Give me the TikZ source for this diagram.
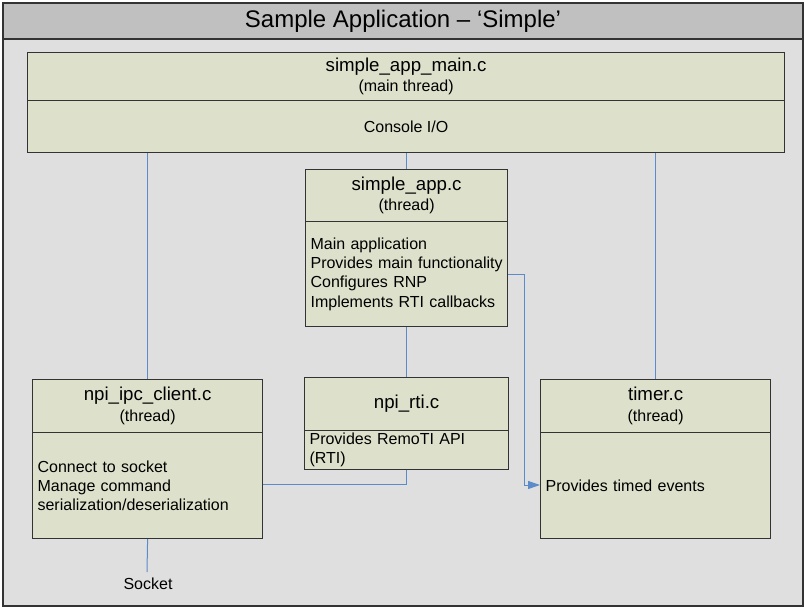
\documentclass[tikz,border=0pt]{standalone}
\usepackage{fontspec}
\setmainfont{Liberation Sans}
\usetikzlibrary{arrows.meta}
\definecolor{bgfill}{HTML}{DFDFDF}
\definecolor{barfill}{HTML}{C0C0C0}
\definecolor{boxfill}{HTML}{DDE1CB}
\definecolor{wireblue}{HTML}{5B8BC9}
\definecolor{edgegray}{HTML}{333333}
\begin{document}
\begin{tikzpicture}[x=1pt,y=-1pt,
  hdr/.style={draw=edgegray, line width=1.2pt, fill=boxfill, anchor=north west, inner sep=0pt, align=center, font=\fontsize{18.67}{20.5}\selectfont},
  bdy/.style={draw=edgegray, line width=1.2pt, fill=boxfill, anchor=north west, inner xsep=5pt, inner ysep=0pt, align=left, font=\fontsize{16}{19.3}\selectfont},
  link/.style={draw=wireblue, line width=1pt},
  arrowlink/.style={link, -{Triangle[length=12pt,width=8pt]}, fill=none}]
\useasboundingbox (0,0) rectangle (804,607);
% frame and title bar
\node[draw=edgegray, line width=2pt, fill=bgfill, anchor=north west, minimum width=800pt, minimum height=603pt, inner sep=0pt] (frame) at (2,2) {};
\node[draw=edgegray, line width=2pt, fill=barfill, anchor=north west, minimum width=800pt, minimum height=36pt, inner sep=0pt, font=\fontsize{24}{28}\selectfont] (titlebar) at (2,2) {Sample Application – ‘Simple’};
% simple_app_main.c
\node[hdr, minimum width=757pt, minimum height=48pt] (mainh) at (27,52) {simple\_app\_main.c\\{\fontsize{16}{19}\selectfont (main thread)}};
\node[bdy, minimum width=757pt, minimum height=52pt, align=center] (mainb) at (27,100) {Console I/O};
% simple_app.c
\node[hdr, minimum width=202pt, minimum height=52pt] (apph) at (305,169) {simple\_app.c\\{\fontsize{16}{19}\selectfont (thread)}};
\node[bdy, text width=192pt, minimum height=105pt] (appb) at (305,221) {Main application\\\mbox{Provides main functionality}\\Configures RNP\\Implements RTI callbacks};
% npi_rti.c
\node[hdr, minimum width=204pt, minimum height=53pt] (rtih) at (304,377) {npi\_rti.c};
\node[bdy, text width=194pt, minimum height=39pt] (rtib) at (304,430) {Provides RemoTI API\\(RTI)};
% npi_ipc_client.c
\node[hdr, minimum width=230pt, minimum height=53pt] (ipch) at (32,379) {npi\_ipc\_client.c\\{\fontsize{16}{19}\selectfont (thread)}};
\node[bdy, text width=220pt, minimum height=106pt] (ipcb) at (32,432) {Connect to socket\\Manage command\\serialization/deserialization};
% timer.c
\node[hdr, minimum width=230pt, minimum height=53pt] (timerh) at (540,379) {timer.c\\{\fontsize{16}{19}\selectfont (thread)}};
\node[bdy, text width=220pt, minimum height=106pt] (timerb) at (540,432) {Provides timed events};
% socket
\coordinate (sockend) at (147,572);
\node[font=\fontsize{16}{19}\selectfont, inner sep=0pt] (socket) at (148,584) {Socket};
% connectors
\draw[link] (mainb.south -| ipch.north) -- (ipch.north);
\draw[link] (mainb.south -| apph.north) -- (apph.north);
\draw[link] (mainb.south -| timerh.north) -- (timerh.north);
\draw[link] (appb.south) -- (appb.south |- rtih.north);
\draw[link] (rtib.south) -- (rtib.south |- 0,484) -- (ipcb.east |- 0,484);
\draw[link] (ipcb.south) -- (sockend);
\draw[arrowlink] (appb.east |- 0,274) -- (524,274) -- (524,485) -- (timerb.west |- 0,485);
\end{tikzpicture}
\end{document}
